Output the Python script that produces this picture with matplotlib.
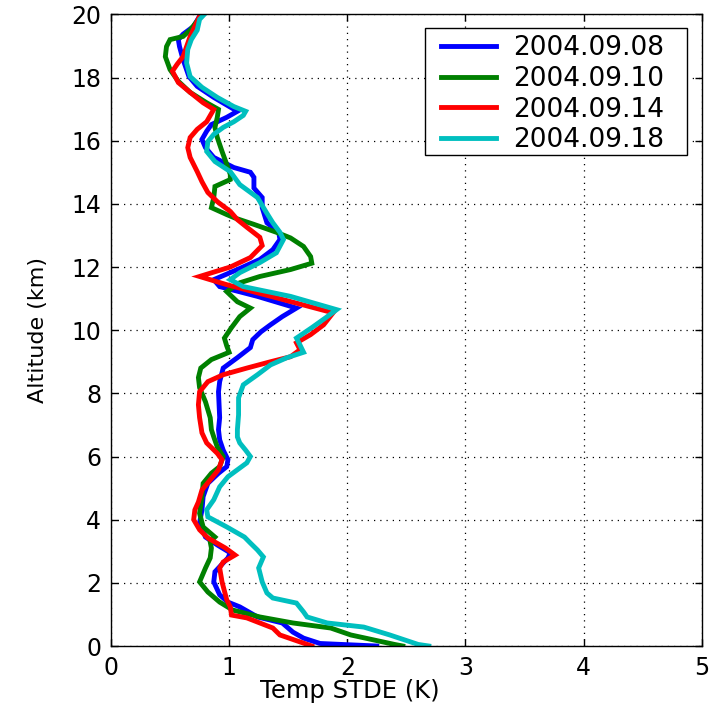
import matplotlib
matplotlib.use("Agg")
import matplotlib.pyplot as plt
from matplotlib.patches import Rectangle

plt.rcParams['font.family'] = ['DejaVu Sans']

# Temperature standard deviation profiles (K) versus altitude (km)
labels = ["2004.09.08", "2004.09.10", "2004.09.14", "2004.09.18"]
colors = ["#0000ff", "#008000", "#ff0000", "#00bfbf"]

alt_0908 = [0.0, 0.08, 0.25, 0.44, 0.73, 0.92, 1.24, 1.39, 1.62, 2.03, 2.35, 2.79, 2.95, 3.2, 3.45,
            3.9, 4.31, 4.73, 5.15, 5.47, 5.68, 5.9, 6.2, 6.53, 6.85, 7.23, 8.05, 8.37, 8.8, 9.13,
            9.45, 9.7, 9.95, 10.17, 10.43, 10.7, 11.07, 11.38, 11.6, 11.92, 12.24, 12.55, 12.87,
            13.1, 13.4, 13.88, 14.2, 14.5, 14.84, 15.0, 15.15, 15.47, 15.78, 16.04, 16.3, 16.51,
            16.74, 16.93, 17.37, 17.72, 18.03, 18.57, 18.98, 19.2, 19.37, 19.62, 19.94, 20.0]
stde_0908 = [2.25, 1.77, 1.63, 1.54, 1.45, 1.24, 1.09, 0.99, 0.92, 0.87, 0.88, 0.99, 1.01, 0.90, 0.80,
             0.75, 0.77, 0.78, 0.82, 0.91, 0.98, 0.99, 0.95, 0.92, 0.91, 0.92, 0.91, 0.92, 0.95, 1.07,
             1.18, 1.20, 1.27, 1.35, 1.45, 1.57, 1.24, 0.92, 0.87, 1.07, 1.26, 1.37, 1.43,
             1.42, 1.32, 1.28, 1.28, 1.21, 1.21, 1.18, 1.04, 0.87, 0.80, 0.77, 0.81, 0.85,
             0.98, 1.07, 0.87, 0.73, 0.66, 0.61, 0.58, 0.57, 0.61, 0.70, 0.75, 0.77]

alt_0910 = [0.0, 0.05, 0.35, 0.57, 0.73, 0.92, 1.14, 1.39, 1.71, 2.03, 2.47, 2.79, 3.1, 3.3, 3.45,
            3.77, 4.2, 4.73, 5.15, 5.47, 5.68, 6.0, 6.3, 6.62, 6.85, 7.23, 7.73, 8.18, 8.5, 8.8,
            9.07, 9.3, 9.5, 9.75, 10.08, 10.43, 10.7, 10.9, 11.22, 11.5, 11.7, 11.92, 12.12, 12.33,
            12.65, 12.92, 13.1, 13.35, 13.55, 13.66, 13.88, 14.2, 14.55, 14.77, 14.93, 15.25, 15.66,
            16.1, 16.42, 16.74, 16.99, 17.2, 17.53, 17.88, 18.25, 18.66, 18.98, 19.2, 19.3, 19.5,
            19.84, 20.0]
stde_0910 = [2.47, 2.40, 2.03, 1.86, 1.54, 1.26, 1.03, 0.92, 0.82, 0.75, 0.80, 0.84, 0.85, 0.84, 0.88,
             0.78, 0.75, 0.77, 0.78, 0.85, 0.92, 0.95, 0.90, 0.87, 0.85, 0.84, 0.80, 0.75, 0.74, 0.76,
             0.85, 1.00, 0.98, 0.96, 1.02, 1.09, 1.18, 1.07, 0.98, 1.09, 1.26, 1.52, 1.70, 1.69,
             1.63, 1.52, 1.40, 1.21, 1.05, 0.98, 0.85, 0.87, 0.88, 1.01, 1.01, 0.98, 0.94,
             0.90, 0.88, 0.90, 0.91, 0.81, 0.67, 0.57, 0.50, 0.46, 0.47, 0.50, 0.61, 0.67,
             0.74, 0.77]

alt_0914 = [0.0, 0.13, 0.35, 0.57, 0.73, 0.89, 0.98, 1.24, 1.46, 2.03, 2.47, 2.66, 2.88, 3.1, 3.42,
            3.68, 4.0, 4.31, 4.56, 4.94, 5.26, 5.58, 5.9, 6.1, 6.43, 6.75, 7.23, 7.64, 8.05, 8.37,
            8.59, 8.8, 9.0, 9.16, 9.38, 9.6, 9.86, 10.17, 10.55, 11.44, 11.7, 12.0, 12.3, 12.68,
            12.94, 13.26, 13.5, 13.76, 14.07, 14.36, 14.7, 15.02, 15.47, 15.78, 16.1, 16.36, 16.6,
            16.99, 17.2, 17.53, 17.84, 18.2, 18.42, 18.66, 18.98, 19.3, 19.62, 19.94, 20.0]
stde_0914 = [1.70, 1.60, 1.43, 1.37, 1.26, 1.15, 1.02, 1.01, 0.98, 0.94, 0.92, 0.95, 1.05, 0.97, 0.82,
             0.75, 0.70, 0.71, 0.74, 0.77, 0.84, 0.91, 0.94, 0.90, 0.81, 0.77, 0.75, 0.74, 0.75, 0.82,
             0.95, 1.15, 1.35, 1.52, 1.60, 1.57, 1.69, 1.80, 1.88, 0.98, 0.75, 1.01, 1.18, 1.28,
             1.26, 1.15, 1.07, 1.01, 0.90, 0.82, 0.77, 0.73, 0.67, 0.65, 0.67, 0.73, 0.81,
             0.87, 0.78, 0.67, 0.57, 0.52, 0.56, 0.61, 0.64, 0.67, 0.71, 0.75, 0.76]

alt_0918 = [0.0, 0.05, 0.35, 0.6, 0.73, 0.92, 1.08, 1.36, 1.52, 1.68, 2.03, 2.47, 2.82, 3.04, 3.26,
            3.45, 3.77, 4.09, 4.31, 4.63, 5.04, 5.36, 5.58, 5.8, 6.0, 6.2, 6.43, 6.62, 6.85, 7.32,
            7.86, 8.27, 8.59, 8.9, 9.13, 9.3, 9.53, 9.75, 10.08, 10.4, 10.65, 11.07, 11.38, 11.6,
            11.82, 12.14, 12.45, 12.87, 13.1, 13.4, 13.76, 14.2, 14.61, 15.02, 15.34, 15.66, 15.97,
            16.2, 16.42, 16.6, 16.8, 16.93, 17.08, 17.37, 17.69, 18.03, 18.46, 18.89, 19.2, 19.5,
            19.84, 20.0]
stde_0918 = [2.69, 2.60, 2.36, 2.14, 1.83, 1.66, 1.63, 1.57, 1.37, 1.32, 1.28, 1.25, 1.29, 1.24, 1.18,
             1.13, 0.98, 0.82, 0.81, 0.87, 0.92, 0.99, 1.07, 1.15, 1.18, 1.14, 1.09, 1.07, 1.07, 1.08,
             1.08, 1.12, 1.24, 1.35, 1.49, 1.63, 1.60, 1.57, 1.70, 1.82, 1.91, 1.52, 1.12, 1.01,
             1.09, 1.26, 1.40, 1.46, 1.43, 1.37, 1.31, 1.24, 1.09, 1.01, 0.88, 0.81, 0.82,
             0.87, 0.95, 1.04, 1.12, 1.14, 1.04, 0.90, 0.77, 0.67, 0.64, 0.65, 0.68, 0.73,
             0.75, 0.79]

profiles = [(stde_0908, alt_0908), (stde_0910, alt_0910), (stde_0914, alt_0914), (stde_0918, alt_0918)]

x_ticks = [0, 1, 2, 3, 4, 5]
y_ticks = [0, 2, 4, 6, 8, 10, 12, 14, 16, 18, 20]

fig = plt.figure(figsize=(7.16, 7.17), dpi=100)
ax = fig.add_axes([0.155, 0.099, 0.825, 0.881])

for (xs, ys), lab, col in zip(profiles, labels, colors):
    ax.plot(xs, ys, color=col, lw=3.5, label=lab, solid_joinstyle='miter')

ax.set_xlim(0, 5)
ax.set_ylim(0, 20)
ax.set_xticks(x_ticks)
ax.set_yticks(y_ticks)
ax.grid(True, color='black', linestyle=(0, (1, 4)), linewidth=0.9)
ax.tick_params(direction='in', top=True, right=True, length=5, width=1,
               labelsize=17, pad=7)
for s in ax.spines.values():
    s.set_linewidth(1.0)
    s.set_color('black')

ax.set_xlabel("Temp STDE (K)", fontsize=17.5)
ax.xaxis.set_label_coords(0.404, -0.052)
ax.set_ylabel("Altitude (km)", fontsize=16, labelpad=17)

# legend box with a white background, entries placed inside it
box = Rectangle((0.531, 0.777), 0.444, 0.201, transform=ax.transAxes,
                facecolor='white', edgecolor='black', linewidth=1.0, zorder=4.5)
ax.add_patch(box)
leg = ax.legend(loc='upper left', bbox_to_anchor=(0.558, 0.967), borderaxespad=0,
                fontsize=19, handlelength=2.1, handletextpad=0.65, labelspacing=0.18,
                frameon=False, borderpad=0)

fig.savefig("out.png", dpi=100)
